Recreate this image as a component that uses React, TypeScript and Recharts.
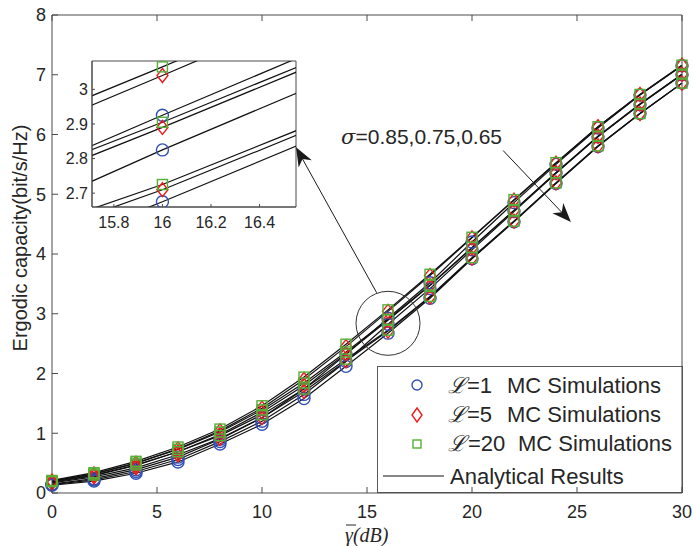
import React from 'react';
import {
  ComposedChart,
  Line,
  XAxis,
  YAxis,
  ReferenceLine,
  ReferenceDot,
  ReferenceArea,
  CartesianGrid,
  Customized,
} from 'recharts';

// ---------------- data ----------------
const snr = [0, 2, 4, 6, 8, 10, 12, 14, 16, 18, 20, 22, 24, 26, 28, 30];

// sigma = 0.85
const s85L1 = [0.15, 0.24, 0.39, 0.6, 0.9, 1.26, 1.74, 2.32, 2.925, 3.52, 4.2, 4.86, 5.5, 6.11, 6.66, 7.15];
const s85L5 = [0.2, 0.32, 0.5, 0.74, 1.04, 1.42, 1.9, 2.45, 3.04, 3.64, 4.27, 4.9, 5.52, 6.13, 6.67, 7.16];
const s85L20 = [0.21, 0.34, 0.53, 0.77, 1.07, 1.46, 1.94, 2.49, 3.065, 3.66, 4.28, 4.91, 5.53, 6.13, 6.67, 7.16];
// sigma = 0.75
const s75L1 = [0.14, 0.22, 0.36, 0.56, 0.86, 1.2, 1.65, 2.2, 2.825, 3.42, 4.07, 4.71, 5.35, 5.96, 6.5, 7.0];
const s75L5 = [0.18, 0.29, 0.46, 0.69, 0.98, 1.35, 1.8, 2.33, 2.89, 3.47, 4.1, 4.73, 5.36, 5.97, 6.51, 7.01];
const s75L20 = [0.2, 0.32, 0.5, 0.73, 1.02, 1.39, 1.84, 2.36, 2.905, 3.48, 4.11, 4.73, 5.36, 5.97, 6.51, 7.01];
// sigma = 0.65
const s65L1 = [0.13, 0.2, 0.33, 0.52, 0.82, 1.15, 1.58, 2.12, 2.675, 3.26, 3.92, 4.54, 5.18, 5.8, 6.35, 6.86];
const s65L5 = [0.17, 0.27, 0.42, 0.64, 0.91, 1.26, 1.7, 2.21, 2.71, 3.28, 3.93, 4.55, 5.19, 5.81, 6.35, 6.86];
const s65L20 = [0.19, 0.3, 0.47, 0.69, 0.96, 1.31, 1.74, 2.24, 2.725, 3.29, 3.94, 4.55, 5.19, 5.81, 6.35, 6.86];

const xTicks = [0, 5, 10, 15, 20, 25, 30];
const yTicks = [0, 1, 2, 3, 4, 5, 6, 7, 8];
const insetXTicks = [15.8, 16, 16.2, 16.4];
const insetYTicks = [2.7, 2.8, 2.9, 3];

const l1Keys = ['s85L1', 's75L1', 's65L1'];
const l5Keys = ['s85L5', 's75L5', 's65L5'];
const l20Keys = ['s85L20', 's75L20', 's65L20'];
const allKeys = [...l1Keys, ...l5Keys, ...l20Keys];

const data = snr.map((x, i) => ({
  x,
  s85L1: s85L1[i],
  s85L5: s85L5[i],
  s85L20: s85L20[i],
  s75L1: s75L1[i],
  s75L5: s75L5[i],
  s75L20: s75L20[i],
  s65L1: s65L1[i],
  s65L5: s65L5[i],
  s65L20: s65L20[i],
}));

// ---------------- styles ----------------
const AX = '#4a4a4a';
const TXT = '#262626';
const BLUE = '#3150b4';
const RED = '#f01c1c';
const GREEN = '#55b036';
const FONT = '"Liberation Sans", Arial, Helvetica, sans-serif';

// ---------------- markers ----------------
const CircleDot = (p: any) => {
  if (p.cx == null || p.cy == null) return <g />;
  return <circle cx={p.cx} cy={p.cy} r={6} fill="none" stroke={BLUE} strokeWidth={1.4} />;
};
const DiamondDot = (p: any) => {
  if (p.cx == null || p.cy == null) return <g />;
  const { cx, cy } = p;
  return (
    <polygon
      points={`${cx},${cy - 7} ${cx + 5.5},${cy} ${cx},${cy + 7} ${cx - 5.5},${cy}`}
      fill="none"
      stroke={RED}
      strokeWidth={1.4}
    />
  );
};
const SquareDot = (p: any) => {
  if (p.cx == null || p.cy == null) return <g />;
  return <rect x={p.cx - 5} y={p.cy - 5} width={10} height={10} fill="none" stroke={GREEN} strokeWidth={1.4} />;
};

// ---------------- ticks (inward) ----------------
const makeBottomTick = (len: number, fs: number, dy: number) => (p: any) => (
  <g>
    <line x1={p.x} y1={p.y} x2={p.x} y2={p.y - len} stroke={AX} strokeWidth={1} />
    <text x={p.x} y={p.y + dy} textAnchor="middle" fontSize={fs} fontFamily={FONT} fill={TXT}>
      {String(p.payload.value)}
    </text>
  </g>
);
const makeLeftTick = (len: number, fs: number, gap: number) => (p: any) => (
  <g>
    <line x1={p.x} y1={p.y} x2={p.x + len} y2={p.y} stroke={AX} strokeWidth={1} />
    <text x={p.x - gap} y={p.y + fs * 0.36} textAnchor="end" fontSize={fs} fontFamily={FONT} fill={TXT}>
      {String(p.payload.value)}
    </text>
  </g>
);
const makeTopTick = (len: number) => (p: any) => (
  <line x1={p.x} y1={p.y} x2={p.x} y2={p.y + len} stroke={AX} strokeWidth={1} />
);
const makeRightTick = (len: number) => (p: any) => (
  <line x1={p.x} y1={p.y} x2={p.x - len} y2={p.y} stroke={AX} strokeWidth={1} />
);

// ---------------- annotations ----------------
const Arrow = (p: any) => {
  const { x1, y1, x2, y2 } = p;
  const dx = x2 - x1;
  const dy = y2 - y1;
  const len = Math.hypot(dx, dy) || 1;
  const ux = dx / len;
  const uy = dy / len;
  const nx = -uy;
  const ny = ux;
  const L = 19;
  const W = 7.5;
  const bx = x2 - ux * L;
  const by = y2 - uy * L;
  const mx = x2 - ux * L * 0.7;
  const my = y2 - uy * L * 0.7;
  return (
    <g>
      <line x1={x1} y1={y1} x2={mx} y2={my} stroke="#1a1a1a" strokeWidth={1} />
      <polygon
        points={`${x2},${y2} ${bx + nx * W},${by + ny * W} ${mx},${my} ${bx - nx * W},${by - ny * W}`}
        fill="#1a1a1a"
      />
    </g>
  );
};

const SigmaText = (p: any) => (
  <text x={p.cx} y={p.cy} textAnchor="end" fontSize={21} fontFamily={FONT} fill={TXT}>
    <tspan fontFamily='"DejaVu Serif", "Liberation Serif", serif' fontStyle="italic">σ</tspan>
    <tspan>=0.85,0.75,0.65</tspan>
  </text>
);

const AxisLabels = () => (
  <g>
    <text
      transform="translate(27,238) rotate(-90)"
      textAnchor="middle"
      fontSize={20}
      fontFamily={FONT}
      fill={TXT}
    >
      Ergodic capacity(bit/s/Hz)
    </text>
    <line x1={346} y1={525} x2={356} y2={525} stroke={TXT} strokeWidth={1} />
    <text
      x={345}
      y={542}
      textAnchor="start"
      fontSize={20}
      fontFamily='"Liberation Serif", "DejaVu Serif", serif'
      fontStyle="italic"
      fill={TXT}
    >
      γ(dB)
    </text>
  </g>
);

// ---------------- legend (drawn inside the chart svg) ----------------
const LegendBox = () => (
  <g transform="translate(377,366)">
    <rect x={0.5} y={0.5} width={305} height={126} fill="#fff" stroke="#5a5a5a" strokeWidth={1} />
    <circle cx={40} cy={19} r={5} fill="none" stroke={BLUE} strokeWidth={1.4} />
    <polygon points="40,42 45,49 40,56 35,49" fill="none" stroke={RED} strokeWidth={1.4} />
    <rect x={36} y={74} width={8} height={8} fill="none" stroke={GREEN} strokeWidth={1.4} />
    <line x1={6} y1={110} x2={67} y2={110} stroke="#111" strokeWidth={1} />
    <g fontFamily={FONT} fontSize={22} fill={TXT}>
      <text y={27}>
        <tspan x={71} fontFamily='"DejaVu Serif", serif' fontStyle="italic">ℒ</tspan>
        <tspan x={90}>=1</tspan>
        <tspan x={130}>MC Simulations</tspan>
      </text>
      <text y={56}>
        <tspan x={71} fontFamily='"DejaVu Serif", serif' fontStyle="italic">ℒ</tspan>
        <tspan x={90}>=5</tspan>
        <tspan x={130}>MC Simulations</tspan>
      </text>
      <text y={85}>
        <tspan x={71} fontFamily='"DejaVu Serif", serif' fontStyle="italic">ℒ</tspan>
        <tspan x={91}>=20</tspan>
        <tspan x={141}>MC Simulations</tspan>
      </text>
      <text y={118}>
        <tspan x={73}>Analytical Results</tspan>
      </text>
    </g>
  </g>
);

const renderMarkers = () => [
  ...l1Keys.map((k) => (
    <Line key={'c' + k} dataKey={k} stroke="none" strokeWidth={0} dot={CircleDot} activeDot={false} legendType="none" isAnimationActive={false} />
  )),
  ...l5Keys.map((k) => (
    <Line key={'d' + k} dataKey={k} stroke="none" strokeWidth={0} dot={DiamondDot} activeDot={false} legendType="none" isAnimationActive={false} />
  )),
  ...l20Keys.map((k) => (
    <Line key={'s' + k} dataKey={k} stroke="none" strokeWidth={0} dot={SquareDot} activeDot={false} legendType="none" isAnimationActive={false} />
  )),
];

const renderLines = () =>
  allKeys.map((k) => (
    <Line
      key={'l' + k}
      dataKey={k}
      type="linear"
      stroke="#111"
      strokeWidth={1.2}
      dot={false}
      activeDot={false}
      legendType="none"
      isAnimationActive={false}
    />
  ));

export default function App() {
  return (
    <div style={{ position: 'absolute', left: 0, top: 0, width: 693, height: 546, background: '#fff' }}>
      {/* inset zoom (drawn underneath the transparent main chart) */}
      <div style={{ position: 'absolute', left: 0, top: 0, pointerEvents: 'none' }}>
        <ComposedChart width={693} height={546} data={data} margin={{ top: 61, right: 397, bottom: 0, left: 0 }}>
          <CartesianGrid fill="#fff" stroke="none" horizontal={false} vertical={false} />
          <XAxis
            dataKey="x"
            type="number"
            domain={[15.71, 16.55]}
            allowDataOverflow
            ticks={insetXTicks}
            height={339}
            tickSize={0}
            tickMargin={0}
            tickLine={false}
            axisLine={{ stroke: AX }}
            tick={makeBottomTick(3, 16, 21)}
            interval={0}
          />
          <YAxis
            type="number"
            domain={[2.66, 3.082]}
            allowDataOverflow
            ticks={insetYTicks}
            width={92}
            tickSize={0}
            tickMargin={0}
            tickLine={false}
            axisLine={{ stroke: AX }}
            tick={makeLeftTick(3, 16, 4)}
            interval={0}
          />
          {renderMarkers()}
          {renderLines()}
          <ReferenceArea x1={15.71} x2={16.55} y1={2.66} y2={3.082} fill="none" stroke={AX} strokeWidth={1} ifOverflow="visible" />
        </ComposedChart>
      </div>

      <div style={{ position: 'absolute', left: 0, top: 0 }}>
        <ComposedChart width={693} height={546} data={data} margin={{ top: 0, right: 0, bottom: 0, left: 0 }}>
          <XAxis
            dataKey="x"
            type="number"
            domain={[0, 30]}
            ticks={xTicks}
            height={53}
            tickSize={0}
            tickMargin={0}
            tickLine={false}
            axisLine={{ stroke: AX }}
            tick={makeBottomTick(6, 18, 25)}
            interval={0}
            minTickGap={0}
          />
          <XAxis
            xAxisId="top"
            orientation="top"
            dataKey="x"
            type="number"
            domain={[0, 30]}
            ticks={xTicks}
            height={15}
            tickSize={0}
            tickMargin={0}
            tickLine={false}
            axisLine={{ stroke: AX }}
            tick={makeTopTick(6)}
            interval={0}
          />
          <YAxis
            type="number"
            domain={[0, 8]}
            ticks={yTicks}
            width={52}
            tickSize={0}
            tickMargin={0}
            tickLine={false}
            axisLine={{ stroke: AX }}
            tick={makeLeftTick(6, 18, 6)}
            interval={0}
          />
          <YAxis
            yAxisId="right"
            orientation="right"
            type="number"
            domain={[0, 8]}
            ticks={yTicks}
            width={11}
            tickSize={0}
            tickMargin={0}
            tickLine={false}
            axisLine={{ stroke: AX }}
            tick={makeRightTick(6)}
            interval={0}
          />
          {renderMarkers()}
          {renderLines()}
          <ReferenceDot x={16} y={2.84} r={32} fill="none" stroke="#333" strokeWidth={1} ifOverflow="visible" />
          <ReferenceLine
            segment={[
              { x: 15.46, y: 3.352 },
              { x: 11.62, y: 5.786 },
            ]}
            ifOverflow="visible"
            shape={Arrow}
          />
          <ReferenceLine
            segment={[
              { x: 21.48, y: 5.732 },
              { x: 24.71, y: 4.536 },
            ]}
            ifOverflow="visible"
            shape={Arrow}
          />
          <ReferenceDot x={21.43} y={5.841} r={1} ifOverflow="visible" shape={SigmaText} />
          <Customized component={AxisLabels} />
          <Customized component={LegendBox} />
        </ComposedChart>
      </div>
    </div>
  );
}
